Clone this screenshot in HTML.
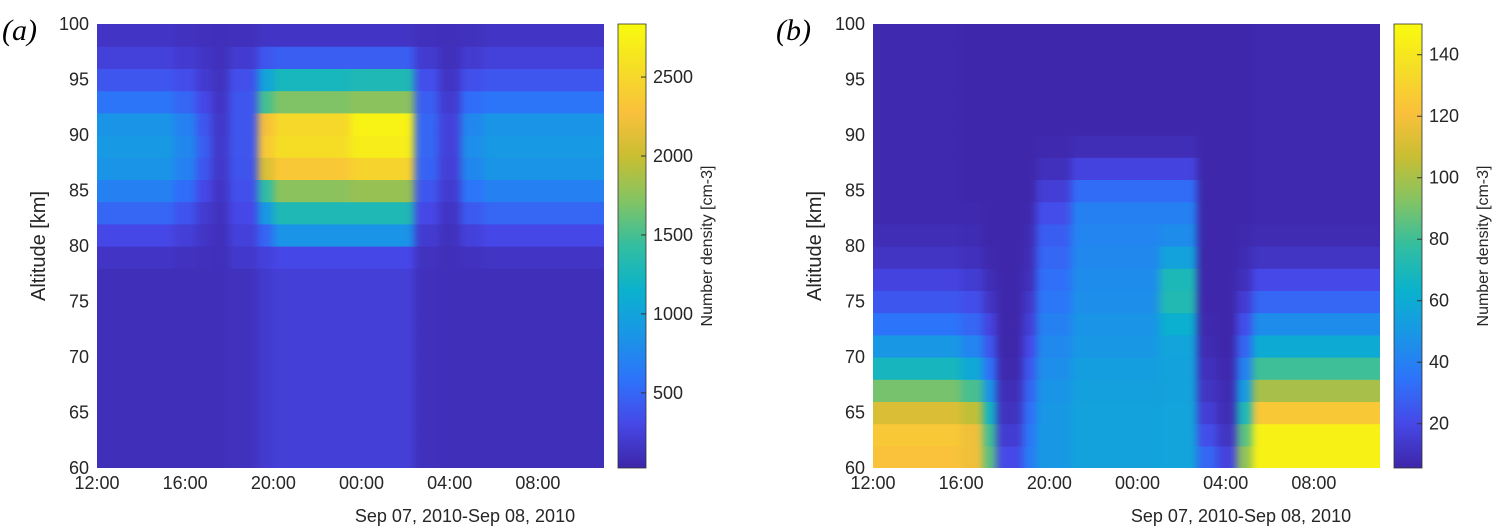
<!DOCTYPE html>
<html><head><meta charset="utf-8"><style>
body{margin:0;background:#fff;}
svg{display:block;font-family:"Liberation Sans",sans-serif;}
</style></head><body>
<svg id="s" width="1492" height="532" viewBox="0 0 1492 532">
<defs>
<filter id="hblur" x="-5%" y="0%" width="110%" height="100%" color-interpolation-filters="sRGB"><feGaussianBlur stdDeviation="4 0"/></filter>
</defs>
<text x="2" y="40" font-family="Liberation Serif,serif" font-style="italic" font-size="30">(a)</text>
<text x="776" y="40" font-family="Liberation Serif,serif" font-style="italic" font-size="30">(b)</text>
</svg>
<script>
// ---- data ----
const altBins = [61,63,65,67,69,71,73,75,77,79,81,83,85,87,89,91,93,95,97,99];
const yTicks = [60,65,70,75,80,85,90,95,100];
const xTickLabels = ["12:00","16:00","20:00","00:00","04:00","08:00"];
const xTickHours = [0,4,8,12,16,20];
const aEdges = [0,3.5,4.5,5.2,6.0,7.3,8,11.5,14.4,15.5,16.5,17.5,23];
const aCols = [
 [100,100,100,100,100,100,100,100,100,150,300,500,700,850,900,850,600,400,250,150],
 [100,100,100,100,100,100,100,100,100,130,230,380,550,700,750,700,500,330,200,130],
 [100,100,100,100,100,100,100,100,100,110,150,200,300,400,450,400,300,200,150,110],
 [100,100,100,100,100,100,100,100,100,100,110,130,150,170,180,170,150,130,110,100],
 [120,120,120,120,120,120,120,120,120,180,250,300,350,380,400,400,400,350,200,110],
 [200,200,200,200,200,200,200,200,200,250,500,900,1400,2100,2350,2250,1500,1000,400,150],
 [230,230,230,230,230,230,230,230,230,300,850,1300,1750,2350,2550,2500,1700,1250,450,150],
 [230,230,230,230,230,230,230,230,230,300,850,1300,1800,2450,2700,2750,1750,1300,450,150],
 [110,110,110,110,110,110,110,110,110,130,200,300,400,480,500,500,450,350,200,110],
 [100,100,100,100,100,100,100,100,100,100,120,150,200,230,250,250,200,150,110,100],
 [100,100,100,100,100,100,100,100,100,130,250,420,600,750,800,750,550,350,200,120],
 [100,100,100,100,100,100,100,100,100,150,300,500,700,850,900,850,600,400,250,150]
];
const aTicks = [500,1000,1500,2000,2500];
const aRange = [24,2836];
const bEdges = [0,4,5,5.6,6.8,7.4,9,13,14.7,15.6,16.5,17.2,23];
const bCols = [
 [122,125,112,90,68,50,35,25,18,12,9,7,7,7,7,7,7,7,7,7],
 [118,118,105,82,58,42,30,22,15,10,8,7,6,6,6,6,6,6,6,6],
 [85,80,66,48,34,25,18,12,9,7,6,6,6,6,6,6,6,6,6,6],
 [20,15,11,9,7,6,6,6,6,6,6,6,6,6,6,6,6,6,6,6],
 [38,36,33,29,25,20,16,13,10,9,8,7,6,6,6,6,6,6,6,6],
 [50,50,50,48,46,43,40,36,33,30,27,22,16,10,7,6,6,6,6,6],
 [55,55,55,54,53,50,48,46,45,43,42,40,32,18,9,6,6,6,6,6],
 [56,56,56,55,55,56,62,72,70,55,45,40,32,18,9,6,6,6,6,6],
 [30,22,16,12,10,8,7,6,6,6,6,6,6,6,6,6,6,6,6,6],
 [18,12,9,8,7,6,6,6,6,6,6,6,6,6,6,6,6,6,6,6],
 [95,85,70,52,40,30,22,15,10,8,7,6,6,6,6,6,6,6,6,6],
 [145,145,125,100,80,60,45,30,20,12,8,7,7,7,7,7,7,7,7,7]
];
const bTicks = [20,40,60,80,100,120,140];
const bRange = [5.6,150];

// ---- colormap ----
const stops = [[0,62,38,168],[0.1,70,72,232],[0.2,45,115,250],[0.3,25,150,230],[0.4,10,178,205],[0.5,50,190,160],[0.6,130,195,100],[0.7,200,190,50],[0.8,250,192,60],[0.9,245,222,38],[1,249,251,14]];
function cmap(t){t=Math.max(0,Math.min(1,t));for(let i=1;i<stops.length;i++){if(t<=stops[i][0]){const a=stops[i-1],b=stops[i],f=(t-a[0])/(b[0]-a[0]);return `rgb(${[1,2,3].map(k=>Math.round(a[k]+f*(b[k]-a[k]))).join(",")})`;}}return "rgb(249,251,14)";}

const svg=document.getElementById('s');const NS="http://www.w3.org/2000/svg";
function el(tag,attrs,parent){const e=document.createElementNS(NS,tag);for(const k in attrs)e.setAttribute(k,attrs[k]);(parent||svg).appendChild(e);return e;}

function panel(p){
 const L=p.x0,R=p.x0+507,T=24,B=468;
 const xs=h=>L+h*(R-L)/23, ys=a=>B-(a-60)*(B-T)/40;
 const defs=el('defs',{});
 const cp=el('clipPath',{id:'clip'+p.id},defs);el('rect',{x:L,y:T,width:R-L,height:B-T},cp);
 const outer=el('g',{'clip-path':`url(#clip${p.id})`});
 const g=el('g',{filter:'url(#hblur)'},outer);
 
 
 const n=p.cols.length;
 p.cols.forEach((col,ci)=>{col.forEach((v,ri)=>{
   const h0=ci===0?-2:p.edges[ci], h1=ci===n-1?25:p.edges[ci+1];
   const r=el('rect',{x:xs(h0),y:ys(altBins[ri]+1),width:xs(h1)-xs(h0)+0.6,height:ys(altBins[ri]-1)-ys(altBins[ri]+1)+0.6,fill:cmap((v-p.range[0])/(p.range[1]-p.range[0]))},g);
   
   
 });});
 yTicks.forEach(t=>{const tx=el('text',{x:L-8,y:ys(t)+6,'text-anchor':'end','font-size':18,fill:'#262626'});tx.textContent=t;
   });
 xTickHours.forEach((h,i)=>{const tx=el('text',{x:xs(h),y:B+21,'text-anchor':'middle','font-size':18,fill:'#262626'});tx.textContent=xTickLabels[i];
   });
 const dl=el('text',{x:L+368,y:B+54,'text-anchor':'middle','font-size':18,fill:'#262626'});dl.textContent="Sep 07, 2010-Sep 08, 2010";
 
 const yt=el('text',{transform:`translate(${L-52},${(T+B)/2}) rotate(-90)`,'text-anchor':'middle','font-size':20,fill:'#262626'});yt.textContent="Altitude [km]";
 
 // colorbar
 const cL=R+14,cW=28;
 const gid='g'+p.id;const lg=el('linearGradient',{id:gid,x1:0,y1:1,x2:0,y2:0},defs);
 for(let i=0;i<=20;i++)el('stop',{offset:i/20,'stop-color':cmap(i/20)},lg);
 const cb=el('rect',{x:cL,y:T,width:cW,height:B-T,fill:`url(#${gid})`,stroke:'#333','stroke-width':0.8});
 
 const cy=v=>B-(v-p.range[0])*(B-T)/(p.range[1]-p.range[0]);
 p.ticks.forEach(t=>{el('line',{x1:cL+cW-5,x2:cL+cW,y1:cy(t),y2:cy(t),stroke:'#333'});
   const tx=el('text',{x:cL+cW+7,y:cy(t)+6,'font-size':18,fill:'#262626'});tx.textContent=t;
   });
 const ct=el('text',{transform:`translate(${cL+cW+66},${(T+B)/2}) rotate(-90)`,'text-anchor':'middle','font-size':16,fill:'#262626'});ct.textContent="Number density [cm-3]";
 
}
panel({id:'panel-a',x0:97,edges:aEdges,cols:aCols,range:aRange,ticks:aTicks});
panel({id:'panel-b',x0:873,edges:bEdges,cols:bCols,range:bRange,ticks:bTicks});
</script>
</body></html>
